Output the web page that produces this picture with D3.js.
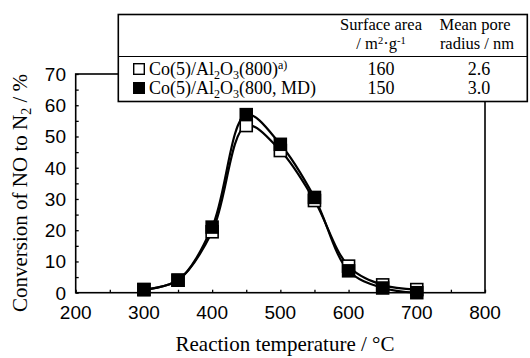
<!DOCTYPE html>
<html><head><meta charset="utf-8">
<script src="https://cdn.jsdelivr.net/npm/d3@7"></script>
<style>body{margin:0;background:#fff}svg{display:block}</style>
</head><body>
<script>
const temps = [300, 350, 400, 450, 500, 550, 600, 650, 700];
const openVals = [1, 4, 19.5, 53.5, 45.5, 29.5, 8.5, 2.5, 1];
const filledVals = [1, 4, 21, 57, 47.5, 30.5, 7, 1.5, 0];
const xTicks = [200, 300, 400, 500, 600, 700, 800];
const yTicks = [0, 10, 20, 30, 40, 50, 60, 70];
const legendRows = [
  {name: "open", sa: "160", r: "2.6"},
  {name: "filled", sa: "150", r: "3.0"}
];

const W = 530, H = 358;
const SERIF = '"Liberation Serif", "Times New Roman", serif';
const SANS = '"Liberation Sans", Arial, sans-serif';
const svg = d3.select("body").append("svg").attr("width", W).attr("height", H);
const x = d3.scaleLinear().domain([200, 800]).range([75.7, 485]);
const y = d3.scaleLinear().domain([0, 70]).range([292.7, 74]);

// frame
svg.append("rect").attr("x", x(200)).attr("y", y(70)).attr("width", x(800) - x(200)).attr("height", y(0) - y(70))
  .attr("fill", "none").attr("stroke", "#000").attr("stroke-width", 1.6);

// ticks (inward)
const xAxis = svg.append("g").attr("transform", `translate(0,${y(0)})`)
  .call(d3.axisBottom(x).tickValues(d3.range(200, 801, 50)).tickSize(-3).tickFormat(""));
xAxis.select(".domain").remove();
xAxis.selectAll("line").attr("stroke-width", 1.3);
const yAxis = svg.append("g").attr("transform", `translate(${x(200)},0)`)
  .call(d3.axisLeft(y).tickValues(d3.range(0, 71, 5)).tickSize(-3).tickFormat(""));
yAxis.select(".domain").remove();
yAxis.selectAll("line").attr("stroke-width", 1.3);

// tick labels
svg.append("g").selectAll("text").data(xTicks).join("text").style("font-family", SANS)
  .attr("x", d => x(d)).attr("y", 319).attr("text-anchor", "middle")
  .attr("font-size", 19).text(d => d);
svg.append("g").selectAll("text").data(yTicks).join("text").style("font-family", SANS)
  .attr("x", 66).attr("y", d => y(d) + 6.8).attr("text-anchor", "end")
  .attr("font-size", 19).text(d => d);

// axis titles
svg.append("text").style("font-family", SERIF).attr("x", 285).attr("y", 351).attr("text-anchor", "middle")
  .attr("font-size", 21).text("Reaction temperature / °C");
const yt = svg.append("text").style("font-family", SERIF).attr("transform", "translate(27,193) rotate(-90)").attr("text-anchor", "middle")
  .attr("font-size", 21);
yt.append("tspan").text("Conversion of NO to N");
yt.append("tspan").attr("font-size", 14).attr("dy", 4).text("2");
yt.append("tspan").attr("dy", -4).text(" / %");

// curves
const line = d3.line().x((d, i) => x(temps[i])).y(d => y(d)).curve(d3.curveCatmullRom.alpha(0.5));
svg.append("path").attr("d", line(openVals)).attr("fill", "none").attr("stroke", "#000").attr("stroke-width", 2.2);
svg.append("path").attr("d", line(filledVals)).attr("fill", "none").attr("stroke", "#000").attr("stroke-width", 2.2);

// markers
const ms = 13.5;
svg.append("g").selectAll("rect").data(openVals).join("rect")
  .attr("x", (d, i) => x(temps[i]) - ms / 2 + 0.75).attr("y", d => y(d) - ms / 2 + 0.75)
  .attr("width", ms - 1.5).attr("height", ms - 1.5)
  .attr("fill", "#fff").attr("stroke", "#000").attr("stroke-width", 1.6);
svg.append("g").selectAll("rect").data(filledVals).join("rect")
  .attr("x", (d, i) => x(temps[i]) - ms / 2).attr("y", d => y(d) - ms / 2)
  .attr("width", ms).attr("height", ms).attr("fill", "#000");

// legend box
const lg = svg.append("g");
lg.append("rect").attr("x", 118.3).attr("y", 14.5).attr("width", 409).attr("height", 87)
  .attr("fill", "#fff").attr("stroke", "#000").attr("stroke-width", 1.6);
lg.append("line").attr("x1", 118.3).attr("x2", 527.3).attr("y1", 56.5).attr("y2", 56.5)
  .attr("stroke", "#000").attr("stroke-width", 1.2);
const fs = 18, hfs = 16.5;
lg.append("text").style("font-family", SERIF).attr("x", 381).attr("y", 30).attr("text-anchor", "middle").attr("font-size", hfs).text("Surface area");
const u = lg.append("text").style("font-family", SERIF).attr("x", 381).attr("y", 48.5).attr("text-anchor", "middle").attr("font-size", hfs);
u.append("tspan").text("/ m");
u.append("tspan").attr("font-size", 10.5).attr("dy", -5).text("2");
u.append("tspan").attr("dy", 5).text("·g");
u.append("tspan").attr("font-size", 10.5).attr("dy", -5).text("-1");
lg.append("text").style("font-family", SERIF).attr("x", 475).attr("y", 30).attr("text-anchor", "middle").attr("font-size", hfs).text("Mean pore");
lg.append("text").style("font-family", SERIF).attr("x", 477).attr("y", 48.5).attr("text-anchor", "middle").attr("font-size", hfs).text("radius / nm");

const rowY = [75, 94];
legendRows.forEach((r, i) => {
  const cy = rowY[i] - 6;
  if (r.name === "open") {
    lg.append("rect").attr("x", 133.7).attr("y", cy - 5.3).attr("width", 10.6).attr("height", 10.6)
      .attr("fill", "#fff").attr("stroke", "#000").attr("stroke-width", 1.4);
  } else {
    lg.append("rect").attr("x", 133).attr("y", cy - 6).attr("width", 12).attr("height", 12).attr("fill", "#000");
  }
  const t = lg.append("text").style("font-family", SERIF).attr("x", 149).attr("y", rowY[i]).attr("font-size", fs);
  t.append("tspan").text("Co(5)/Al");
  t.append("tspan").attr("font-size", 12).attr("dy", 4).text("2");
  t.append("tspan").attr("dy", -4).text("O");
  t.append("tspan").attr("font-size", 12).attr("dy", 4).text("3");
  if (r.name === "open") {
    t.append("tspan").attr("dy", -4).text("(800)");
    t.append("tspan").attr("font-size", 12).attr("dy", -6).text("a)");
  } else {
    t.append("tspan").attr("dy", -4).text("(800, MD)");
  }
  lg.append("text").style("font-family", SERIF).attr("x", 381).attr("y", rowY[i]).attr("text-anchor", "middle").attr("font-size", fs).text(r.sa);
  lg.append("text").style("font-family", SERIF).attr("x", 479).attr("y", rowY[i]).attr("text-anchor", "middle").attr("font-size", fs).text(r.r);
});
</script>
</body></html>
